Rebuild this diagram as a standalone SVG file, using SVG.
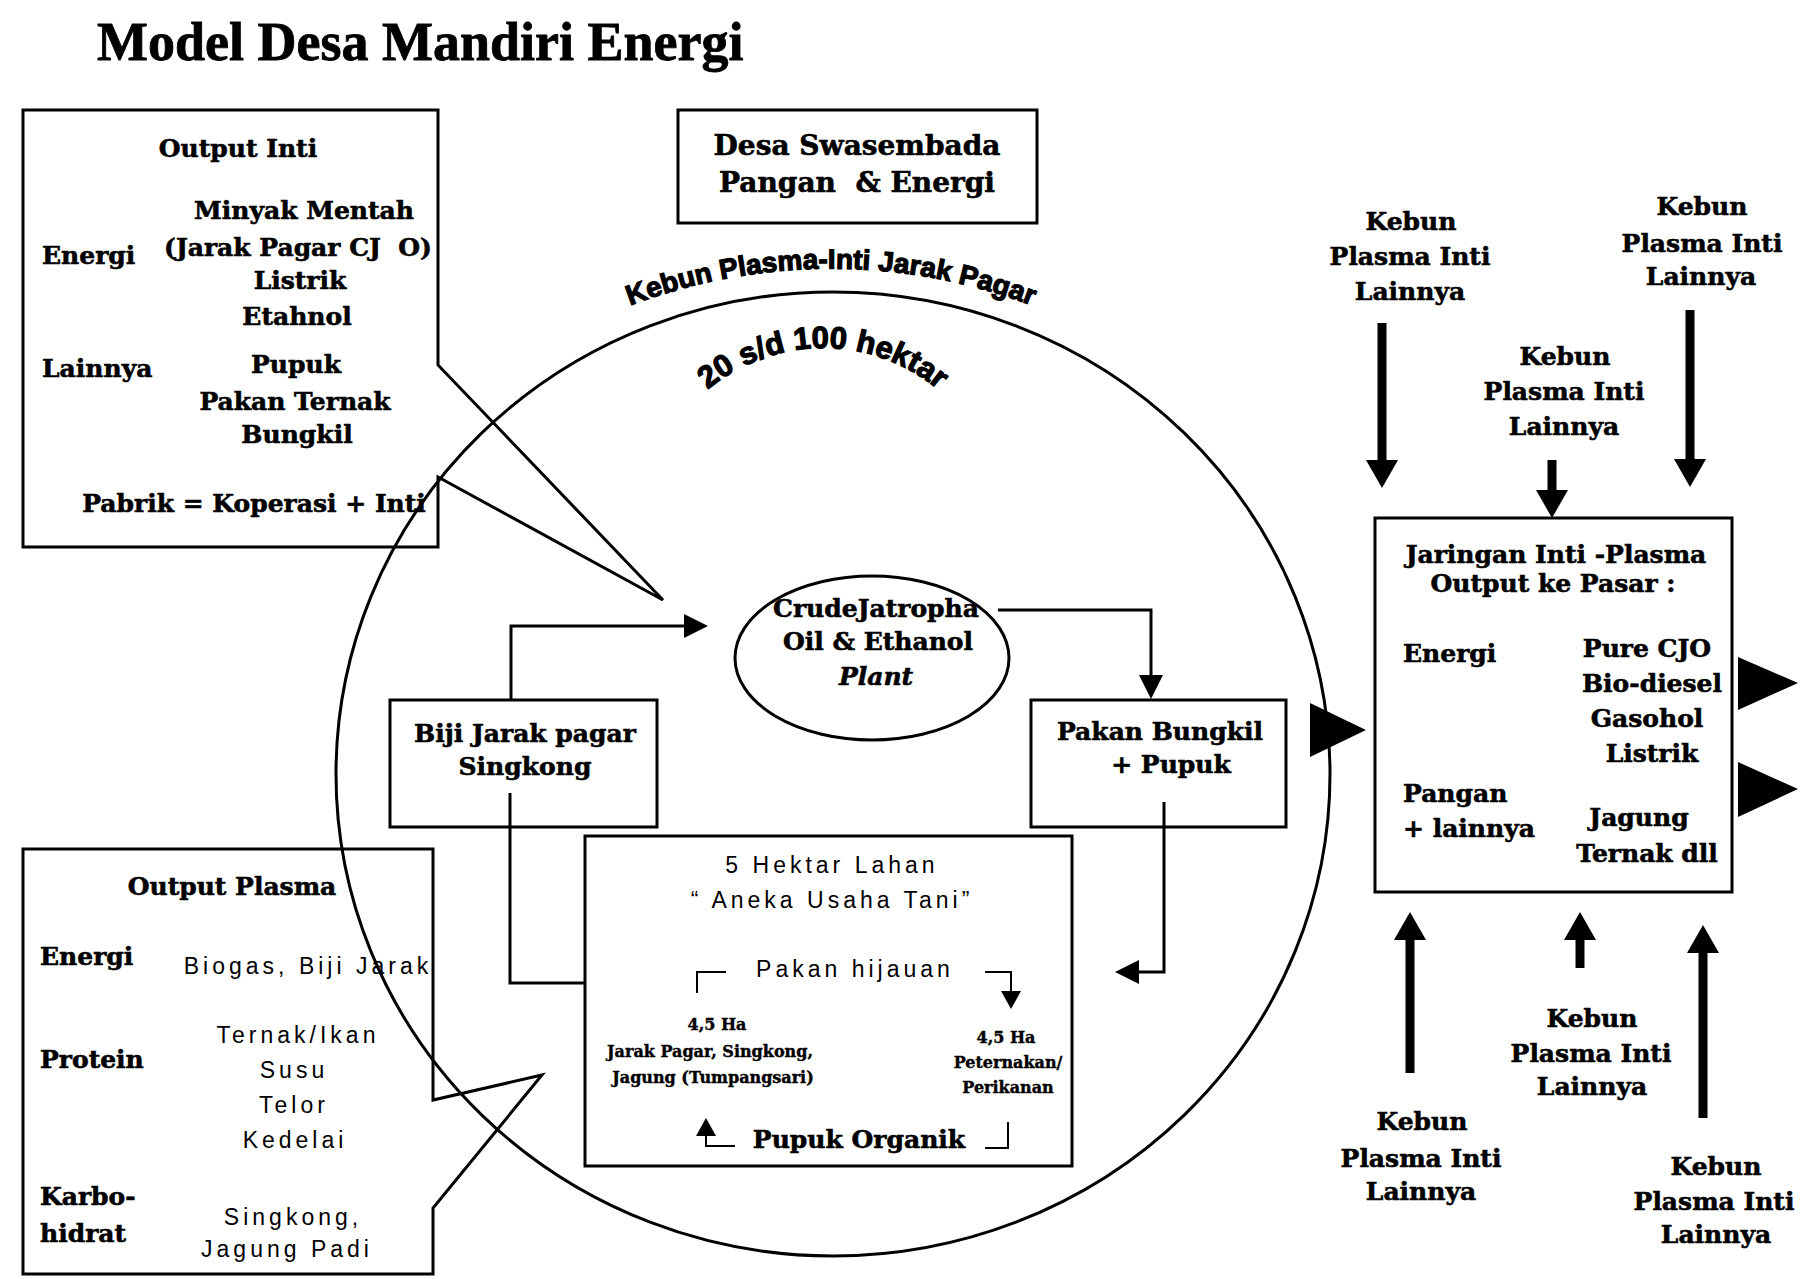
<svg xmlns="http://www.w3.org/2000/svg" width="1816" height="1279" viewBox="0 0 1816 1279">
<style>
.bg{fill:#fff}
.ln{fill:none;stroke:#000;stroke-width:3;stroke-linejoin:miter}
.thin{fill:none;stroke:#000;stroke-width:2}
.thick{fill:none;stroke:#000;stroke-width:9}
.b{font-family:"DejaVu Serif","Liberation Serif",serif;font-weight:bold;font-size:25px;fill:#000;stroke:#000;stroke-width:0.6}
.m{text-anchor:middle}
.s{font-size:16px;stroke-width:0.4}
.big{font-size:28px}
.r{font-family:"Liberation Sans",Arial,sans-serif;font-size:23px;letter-spacing:4px;fill:#000}
.arc{font-family:"Liberation Sans",Arial,sans-serif;font-weight:bold;fill:#000;stroke:#000;stroke-width:1.2}
.title{font-family:"Liberation Serif",serif;font-weight:bold;font-size:54px;fill:#000;stroke:#000;stroke-width:0.8}
</style>
<defs>
<marker id="ah" markerUnits="userSpaceOnUse" viewBox="0 0 24 24" markerWidth="24" markerHeight="24" refX="0" refY="12" orient="auto"><path d="M0,0 L24,12 L0,24 z" fill="#000"/></marker>
<marker id="ahs" markerUnits="userSpaceOnUse" viewBox="0 0 18 20" markerWidth="18" markerHeight="20" refX="0" refY="10" orient="auto"><path d="M0,0 L18,10 L0,20 z" fill="#000"/></marker>
<marker id="ahk" markerUnits="userSpaceOnUse" viewBox="0 0 28 32" markerWidth="28" markerHeight="32" refX="0" refY="16" orient="auto"><path d="M0,0 L28,16 L0,32 z" fill="#000"/></marker>
<path id="arc1" d="M 600,318 A 566,566 0 0 1 1062,318"/>
<path id="arc2" d="M 693,403.5 A 180,180 0 0 1 953,403.5"/>
</defs>
<rect class="bg" x="0" y="0" width="1816" height="1279"/>

<text class="title" x="97" y="60">Model Desa Mandiri Energi</text>

<g id="village-circle">
<ellipse class="ln" cx="833" cy="774" rx="497" ry="482"/>
<text class="arc" font-size="28"><textPath href="#arc1" startOffset="50%" text-anchor="middle">Kebun Plasma-Inti Jarak Pagar</textPath></text>
<text class="arc" font-size="31"><textPath href="#arc2" startOffset="50%" text-anchor="middle">20 s/d 100 hektar</textPath></text>
</g>

<g id="output-inti">
<path class="ln" d="M23,110 H438 V365 L663,600 L438,477 V547 H23 Z"/>
<text class="b m" x="238" y="157">Output Inti</text>
<text class="b m" x="304" y="219">Minyak Mentah</text>
<text class="b m" x="298" y="256" xml:space="preserve">(Jarak Pagar CJ  O)</text>
<text class="b" x="42" y="264">Energi</text>
<text class="b m" x="300" y="289">Listrik</text>
<text class="b m" x="297" y="325">Etahnol</text>
<text class="b" x="42" y="377">Lainnya</text>
<text class="b m" x="296" y="373">Pupuk</text>
<text class="b m" x="295" y="410">Pakan Ternak</text>
<text class="b m" x="297" y="443">Bungkil</text>
<text class="b m" x="254" y="512">Pabrik = Koperasi + Inti</text>
</g>

<g id="desa-swasembada">
<rect class="ln" x="678" y="110" width="359" height="113"/>
<text class="b m big" x="857" y="155">Desa Swasembada</text>
<text class="b m big" x="857" y="192" xml:space="preserve">Pangan  &amp; Energi</text>
</g>

<g id="plant">
<ellipse class="ln" cx="872" cy="658" rx="137" ry="82"/>
<text class="b m" x="876" y="617">CrudeJatropha</text>
<text class="b m" x="878" y="650">Oil &amp; Ethanol</text>
<text class="b m" x="876" y="685" font-style="italic">Plant</text>
</g>

<g id="biji-jarak">
<rect class="ln" x="390" y="700" width="267" height="127"/>
<text class="b m" x="525" y="742">Biji Jarak pagar</text>
<text class="b m" x="525" y="775">Singkong</text>
</g>

<g id="pakan-bungkil">
<rect class="ln" x="1031" y="700" width="255" height="127"/>
<text class="b m" x="1160" y="740">Pakan Bungkil</text>
<text class="b m" x="1171" y="773">+ Pupuk</text>
</g>

<g id="lahan-5-hektar">
<rect class="ln" x="585" y="836" width="487" height="330"/>
<text class="r m" x="832" y="873">5 Hektar Lahan</text>
<text class="r m" x="832" y="908">“ Aneka Usaha Tani”</text>
<text class="r m" x="855" y="977">Pakan hijauan</text>
<path class="thin" d="M697,993 V972 H726"/>
<path class="thin" d="M985,972 H1011 V991" marker-end="url(#ahs)"/>
<text class="b m s" x="717" y="1030">4,5 Ha</text>
<text class="b m s" x="710" y="1057">Jarak Pagar, Singkong,</text>
<text class="b m s" x="713" y="1083">Jagung (Tumpangsari)</text>
<text class="b m s" x="1006" y="1043">4,5 Ha</text>
<text class="b m s" x="1008" y="1068">Peternakan/</text>
<text class="b m s" x="1008" y="1093">Perikanan</text>
<text class="b m" x="859" y="1148">Pupuk Organik</text>
<path class="thin" d="M735,1146 H706 V1136" marker-end="url(#ahs)"/>
<path class="thin" d="M985,1148 H1008 V1122"/>
</g>

<g id="output-plasma">
<path class="ln" d="M23,849 H433 V1100 L542,1075 L433,1208 V1274 H23 Z"/>
<text class="b m" x="232" y="895">Output Plasma</text>
<text class="b" x="40" y="965">Energi</text>
<text class="b" x="40" y="1068">Protein</text>
<text class="b" x="40" y="1205">Karbo-</text>
<text class="b" x="40" y="1242">hidrat</text>
<text class="r m" x="308" y="974">Biogas, Biji Jarak</text>
<text class="r m" x="298" y="1043">Ternak/Ikan</text>
<text class="r m" x="294" y="1078">Susu</text>
<text class="r m" x="294" y="1113">Telor</text>
<text class="r m" x="295" y="1148">Kedelai</text>
<text class="r m" x="293" y="1225">Singkong,</text>
<text class="r m" x="287" y="1257">Jagung Padi</text>
</g>

<g id="jaringan-inti-plasma">
<rect class="ln" x="1375" y="518" width="357" height="374"/>
<text class="b m" x="1556" y="563">Jaringan Inti -Plasma</text>
<text class="b m" x="1553" y="592">Output ke Pasar :</text>
<text class="b" x="1403" y="662">Energi</text>
<text class="b m" x="1647" y="657">Pure CJO</text>
<text class="b m" x="1652" y="692">Bio-diesel</text>
<text class="b m" x="1647" y="727">Gasohol</text>
<text class="b m" x="1652" y="762">Listrik</text>
<text class="b" x="1403" y="802">Pangan</text>
<text class="b" x="1403" y="837">+ lainnya</text>
<text class="b m" x="1639" y="826">Jagung</text>
<text class="b m" x="1647" y="862">Ternak dll</text>
</g>

<g id="kebun-1">
<text class="b m" x="1411" y="230">Kebun</text>
<text class="b m" x="1410" y="265">Plasma Inti</text>
<text class="b m" x="1410" y="300">Lainnya</text>
</g>
<g id="kebun-2">
<text class="b m" x="1702" y="215">Kebun</text>
<text class="b m" x="1702" y="252">Plasma Inti</text>
<text class="b m" x="1701" y="285">Lainnya</text>
</g>
<g id="kebun-3">
<text class="b m" x="1565" y="365">Kebun</text>
<text class="b m" x="1564" y="400">Plasma Inti</text>
<text class="b m" x="1564" y="435">Lainnya</text>
</g>
<g id="kebun-4">
<text class="b m" x="1422" y="1130">Kebun</text>
<text class="b m" x="1421" y="1167">Plasma Inti</text>
<text class="b m" x="1421" y="1200">Lainnya</text>
</g>
<g id="kebun-5">
<text class="b m" x="1592" y="1027">Kebun</text>
<text class="b m" x="1591" y="1062">Plasma Inti</text>
<text class="b m" x="1592" y="1095">Lainnya</text>
</g>
<g id="kebun-6">
<text class="b m" x="1716" y="1175">Kebun</text>
<text class="b m" x="1714" y="1210">Plasma Inti</text>
<text class="b m" x="1716" y="1243">Lainnya</text>
</g>

<g id="connectors">
<path class="ln" d="M511,700 V626 H684" marker-end="url(#ah)"/>
<path class="ln" d="M998,610 H1151 V675" marker-end="url(#ah)"/>
<path class="ln" d="M1164,802 V972 H1139" marker-end="url(#ah)"/>
<path class="ln" d="M510,793 V983 H585"/>
<polygon points="1310,703 1366,730 1310,757" fill="#000"/>
<polygon points="1738,657 1798,683 1738,710" fill="#000"/>
<polygon points="1738,762 1798,789 1738,817" fill="#000"/>
<path class="thick" d="M1382,323 V460" marker-end="url(#ahk)"/>
<path class="thick" d="M1690,310 V459" marker-end="url(#ahk)"/>
<path class="thick" d="M1552,460 V490" marker-end="url(#ahk)"/>
<path class="thick" d="M1410,1073 V940" marker-end="url(#ahk)"/>
<path class="thick" d="M1580,968 V940" marker-end="url(#ahk)"/>
<path class="thick" d="M1703,1118 V953" marker-end="url(#ahk)"/>
</g>
</svg>
